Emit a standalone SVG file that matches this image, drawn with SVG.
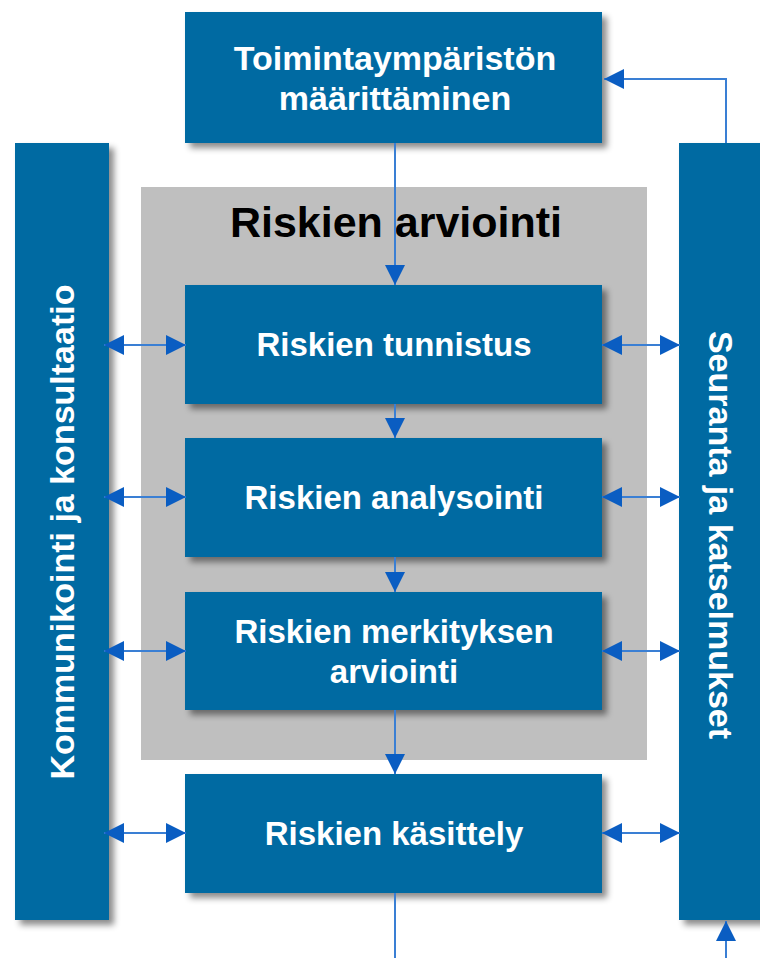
<svg xmlns="http://www.w3.org/2000/svg" width="760" height="958" viewBox="0 0 760 958">
<style>
.box{fill:#026aa2;}
.t{font-family:"Liberation Sans",Arial,sans-serif;font-weight:bold;font-size:33px;fill:#fff;text-anchor:middle;}
.v{font-size:34px;}
.title{font-family:"Liberation Sans",Arial,sans-serif;font-weight:bold;font-size:43px;fill:#000;text-anchor:middle;}
.ln{stroke:#3a7fd4;stroke-width:2;fill:none;}
</style>
<defs>
<filter id="sh" x="-10%" y="-10%" width="130%" height="130%">
<feDropShadow dx="5" dy="5" stdDeviation="3" flood-color="#000" flood-opacity="0.45"/>
</filter>
<marker id="ah" viewBox="0 0 20 20" refX="20" refY="10" markerWidth="21" markerHeight="20" markerUnits="userSpaceOnUse" orient="auto-start-reverse">
<path d="M0,0 L20,10 L0,20 Z" fill="#0a5dc2"/>
</marker>
</defs>
<rect x="0" y="0" width="760" height="958" fill="#fff"/>
<rect id="assess-bg" x="141" y="187" width="506" height="573" fill="#bfbfbf"/>
<text class="title" x="396" y="237">Riskien arviointi</text>

<g id="context"><rect class="box" x="185" y="12" width="417" height="131" filter="url(#sh)"/>
<text class="t" x="395" y="70" style="font-size:34px">Toimintaympäristön</text><text class="t" x="395" y="110" style="font-size:34px">määrittäminen</text></g>

<g id="communication"><rect class="box" x="15" y="143" width="94" height="777" filter="url(#sh)"/>
<text class="t v" transform="translate(74,532) rotate(-90)">Kommunikointi ja konsultaatio</text></g>

<g id="monitoring"><rect class="box" x="679" y="143" width="90" height="777" filter="url(#sh)"/>
<text class="t v" transform="translate(709,535) rotate(90)">Seuranta ja katselmukset</text></g>

<g id="identification"><rect class="box" x="185" y="285" width="417" height="119" filter="url(#sh)"/>
<text class="t" x="394" y="356">Riskien tunnistus</text></g>

<g id="analysis"><rect class="box" x="185" y="438" width="417" height="119" filter="url(#sh)"/>
<text class="t" x="394" y="509">Riskien analysointi</text></g>

<g id="evaluation"><rect class="box" x="185" y="592" width="417" height="118" filter="url(#sh)"/>
<text class="t" x="394" y="643">Riskien merkityksen</text><text class="t" x="394" y="683">arviointi</text></g>

<g id="treatment"><rect class="box" x="185" y="774" width="417" height="119" filter="url(#sh)"/>
<text class="t" x="394" y="845">Riskien käsittely</text></g>

<g id="connectors">
<path class="ln" d="M395,143 V285" marker-end="url(#ah)"/>
<path class="ln" d="M395,404 V438" marker-end="url(#ah)"/>
<path class="ln" d="M395,557 V592" marker-end="url(#ah)"/>
<path class="ln" d="M395,710 V774" marker-end="url(#ah)"/>
<path class="ln" d="M395,893 V958"/>
<path class="ln" d="M726,958 V921" marker-end="url(#ah)"/>
<path class="ln" d="M726,143 V79 H604" marker-end="url(#ah)"/>
<path class="ln" d="M104,345 H186" marker-start="url(#ah)" marker-end="url(#ah)"/>
<path class="ln" d="M104,497 H186" marker-start="url(#ah)" marker-end="url(#ah)"/>
<path class="ln" d="M104,651 H186" marker-start="url(#ah)" marker-end="url(#ah)"/>
<path class="ln" d="M104,833 H186" marker-start="url(#ah)" marker-end="url(#ah)"/>
<path class="ln" d="M602,345 H680" marker-start="url(#ah)" marker-end="url(#ah)"/>
<path class="ln" d="M602,497 H680" marker-start="url(#ah)" marker-end="url(#ah)"/>
<path class="ln" d="M602,651 H680" marker-start="url(#ah)" marker-end="url(#ah)"/>
<path class="ln" d="M602,833 H680" marker-start="url(#ah)" marker-end="url(#ah)"/>
</g>
</svg>
